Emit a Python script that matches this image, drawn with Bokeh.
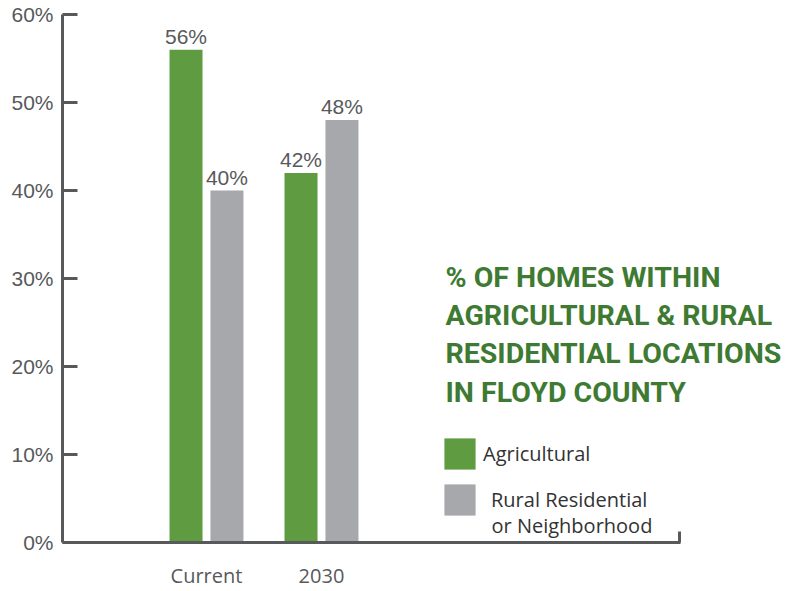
import numpy as np
from bokeh.plotting import figure
from bokeh.models import (ColumnDataSource, Range1d, FixedTicker, PrintfTickFormatter,
                          Legend, LegendItem, Label, LabelSet)
from bokeh.core.properties import value
from bokeh.embed import file_html
from bokeh.resources import INLINE

# ---- data ----
categories = ["Current", "2030"]
agricultural = [56, 42]
rural_residential = [40, 48]
series_names = ["Agricultural", "Rural Residential", "or Neighborhood"]
y_ticks = [0, 10, 20, 30, 40, 50, 60]
title_lines = ["% OF HOMES WITHIN", "AGRICULTURAL & RURAL",
               "RESIDENTIAL LOCATIONS", "IN FLOYD COUNTY"]

# ---- style ----
GREEN = "#5f9b40"
GRAY = "#a7a8ab"
DARK_GREEN = "#3e7a31"
AXIS = "#58595b"
TXT = "#58595b"
LEG_TXT = "#333333"

idx = np.arange(len(categories))
dodge = 0.178
bar_w = 0.287
x_start, x_end, axis_end = -1.252, 5.139, 4.122

p = figure(width=797, height=591, output_backend="svg", toolbar_location=None,
           x_range=Range1d(x_start, x_end), y_range=Range1d(0, 60),
           min_border_left=62, min_border_right=0, min_border_top=14, min_border_bottom=39)
p.outline_line_color = None
p.xgrid.visible = False
p.ygrid.visible = False
p.background_fill_color = "white"

src = ColumnDataSource(dict(
    xa=idx - dodge, xr=idx + dodge, agr=agricultural, rur=rural_residential,
    agr_lbl=[f"{v}%" for v in agricultural], rur_lbl=[f"{v}%" for v in rural_residential]))

ra = p.vbar(x="xa", top="agr", width=bar_w, source=src, fill_color=GREEN, line_color=None)
rr = p.vbar(x="xr", top="rur", width=bar_w, source=src, fill_color=GRAY, line_color=None)

for xcol, ycol, lcol in [("xa", "agr", "agr_lbl"), ("xr", "rur", "rur_lbl")]:
    p.add_layout(LabelSet(x=xcol, y=ycol, text=lcol, source=src, text_align="center",
                          text_baseline="alphabetic", y_offset=6,
                          text_font=value("Liberation Sans"), text_font_size=value("21px"),
                          text_color=value(TXT)))

# y axis
ya = p.yaxis[0]
ya.ticker = FixedTicker(ticks=y_ticks)
ya.formatter = PrintfTickFormatter(format="%d%%")
ya.axis_line_width = 3
ya.axis_line_color = AXIS
ya.major_tick_in = 15
ya.major_tick_out = 0
ya.major_tick_line_width = 3
ya.major_tick_line_color = AXIS
ya.minor_tick_line_color = None
ya.major_label_standoff = 9
ya.major_label_text_font = "Liberation Sans"
ya.major_label_text_font_size = "21px"
ya.major_label_text_color = TXT

# x axis
xa = p.xaxis[0]
xa.ticker = FixedTicker(ticks=list(idx), minor_ticks=[axis_end - 0.005])
xa.major_label_overrides = {int(i): c for i, c in zip(idx, categories)}
xa.bounds = (x_start, axis_end)
xa.axis_line_width = 3
xa.axis_line_color = AXIS
xa.major_tick_line_color = None
xa.minor_tick_in = 11
xa.minor_tick_out = 0
xa.minor_tick_line_width = 3
xa.minor_tick_line_color = AXIS
xa.major_label_standoff = 13
xa.major_label_text_font = "Open Sans"
xa.major_label_text_font_size = "20px"
xa.major_label_text_color = TXT

# title
ys = [265, 227, 189, 150]
for t, yy in zip(title_lines, ys):
    p.add_layout(Label(x=383, y=yy, x_units="screen", y_units="screen", text=t,
                       text_font="Roboto", text_font_style="bold", text_font_size="28.5px",
                       text_color=DARK_GREEN, text_baseline="alphabetic"))

common = dict(orientation="vertical", glyph_width=39, glyph_height=39, spacing=0,
              padding=0, margin=0, border_line_color=None, background_fill_alpha=0,
              label_text_font="Open Sans", label_text_font_size="20px",
              label_text_color=LEG_TXT)
leg1 = Legend(items=[LegendItem(label=series_names[0], renderers=[ra])],
              location=(378, 69), label_standoff=4, **common)
leg2 = Legend(items=[LegendItem(label=series_names[1], renderers=[rr])],
              location=(378, 23), label_standoff=12, **common)
p.add_layout(leg1)
p.add_layout(leg2)
p.add_layout(Label(x=429, y=17, x_units="screen", y_units="screen", text=series_names[2],
                   text_font="Open Sans", text_font_size="20px", text_color=LEG_TXT,
                   text_baseline="alphabetic"))

open("out.html", "w").write(file_html(p, INLINE))
